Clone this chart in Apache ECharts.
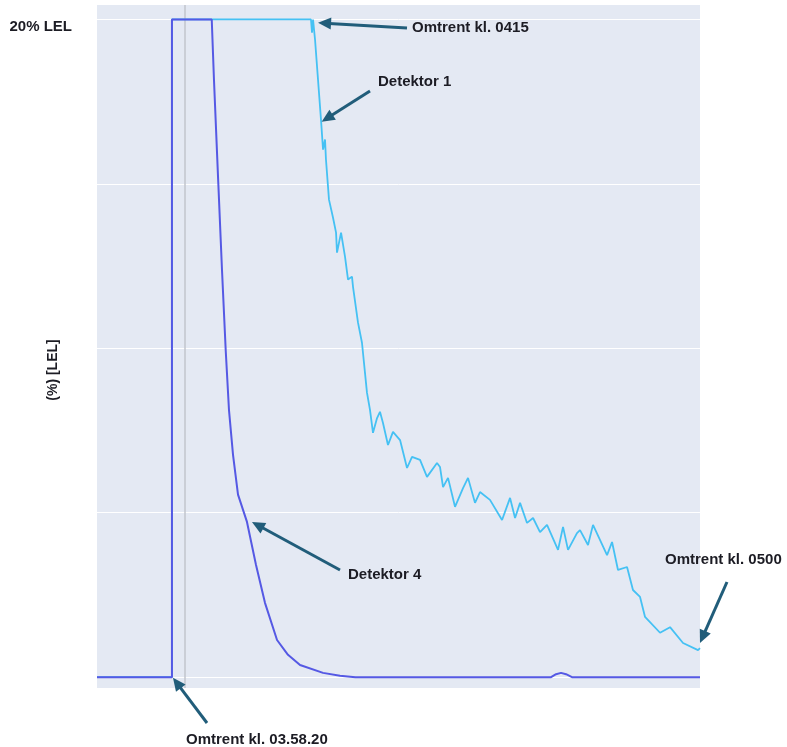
<!DOCTYPE html>
<html>
<head>
<meta charset="utf-8">
<script src="https://cdn.jsdelivr.net/npm/echarts@6/dist/echarts.min.js"></script>
<style>
  html, body { margin: 0; padding: 0; background: #ffffff; }
  #chart { width: 787px; height: 747px; }
</style>
</head>
<body>
<div id="chart"></div>
<script>
// Time is given in minutes after 03:50:00, gas level in % LEL.
const detector1Time = [0, 8.7, 8.7, 24.84, 24.96, 25.08, 25.31, 26.00, 26.24, 26.47, 26.58, 26.93, 27.40, 27.75, 27.86, 28.33,
  28.79, 29.14, 29.60, 29.72, 30.30, 30.76, 31.34, 31.69, 32.04, 32.51, 32.85, 33.20, 33.78, 34.36, 35.18, 35.99, 36.57,
  37.50, 38.31, 39.47, 39.82, 40.17, 40.75, 41.56, 42.49, 43.07, 43.88, 44.46, 45.62, 47.02, 47.95, 48.53, 49.11, 49.92,
  50.62, 51.43, 52.24, 53.52, 54.10, 54.68, 55.72, 56.07, 57.00, 57.58, 59.21, 59.79, 60.48, 61.53, 62.22, 63.04, 63.62,
  65.36, 66.52, 68.03, 69.77, 70.00];
const detector1Lel = [0, 0, 20, 20, 19.6, 20, 19.39, 16.96, 16.04, 16.35, 15.74, 14.52, 13.97, 13.52, 12.91, 13.52,
  12.79, 12.09, 12.18, 11.87, 10.78, 10.17, 8.65, 8.13, 7.43, 7.88, 8.07, 7.73, 7.06, 7.46, 7.21, 6.36, 6.70,
  6.61, 6.09, 6.51, 6.39, 5.78, 6.06, 5.18, 5.75, 6.06, 5.30, 5.63, 5.39, 4.78, 5.45, 4.84, 5.30, 4.69,
  4.84, 4.41, 4.63, 3.87, 4.57, 3.87, 4.38, 4.47, 4.02, 4.63, 3.71, 4.11, 3.26, 3.35, 2.65, 2.44, 1.83,
  1.35, 1.52, 1.04, 0.82, 0.88];

const detector4Time = [0, 8.7, 8.7, 13.32, 13.58, 14.08, 14.51, 14.94, 15.32, 15.79, 16.37, 17.41, 18.46, 19.50, 20.90,
  22.17, 23.57, 26.24, 28.21, 30.00, 52.71, 53.29, 53.87, 54.45, 55.14, 70.00];
const detector4Lel = [0, 0, 20, 20, 18.16, 15.03, 12.38, 9.95, 8.13, 6.76, 5.55, 4.72, 3.41, 2.26, 1.13,
  0.68, 0.37, 0.13, 0.04, 0, 0, 0.09, 0.13, 0.09, 0, 0];

const gridLevels = [0, 5, 10, 15, 20];
const markerTime = 10.2;
const yTickLabels = { 20: '20% LEL' };
const yAxisTitle = '(%) [LEL]';

// Callouts: arrow tip in chart values, tail and text anchor in pixels.
const callouts = [
  { text: 'Omtrent kl. 0415', tip: [25.66, 19.9], tail: [407, 28], label: [412, 28] },
  { text: 'Detektor 1', tip: [26.08, 16.89], tail: [370, 91], label: [378, 82] },
  { text: 'Detektor 4', tip: [17.99, 4.72], tail: [340, 570], label: [348, 575] },
  { text: 'Omtrent kl. 0500', tip: [70, 1.04], tail: [727, 582], label: [665, 560] },
  { text: 'Omtrent kl. 03.58.20', tip: [8.82, -0.02], tail: [207, 723], label: [186, 740] }
];

const FONT = "'Liberation Sans', Arial, sans-serif";
const TEXT_COLOR = '#1c1c24';
const ARROW_COLOR = '#215d7a';

const zip = (xs, ys) => xs.map((x, i) => [x, ys[i]]);

const chart = echarts.init(document.getElementById('chart'), null, { renderer: 'canvas' });

chart.setOption({
  animation: false,
  grid: { left: 97, right: 87, top: 5, bottom: 59, show: true, backgroundColor: '#e4e9f3', borderWidth: 0 },
  xAxis: { type: 'value', min: 0, max: 70, show: false },
  yAxis: {
    type: 'value', min: -0.33, max: 20.44,
    axisLine: { show: false }, axisTick: { show: false }, splitLine: { show: false },
    axisLabel: {
      customValues: [20],
      formatter: v => yTickLabels[v] || '',
      margin: 25, fontSize: 15, fontWeight: 'bold', color: TEXT_COLOR, fontFamily: FONT,
      verticalAlign: 'top'
    }
  },
  series: [
    {
      // background reference lines: level gridlines and the 04:00 marker
      type: 'line', data: [], silent: true, z: 1,
      markLine: {
        z: 1, silent: true, symbol: 'none', animation: false, label: { show: false },
        data: gridLevels.map(v => ({ yAxis: v, lineStyle: { color: '#ffffff', width: 1, type: 'solid' } }))
          .concat([{ xAxis: markerTime, lineStyle: { color: '#c2c5cc', width: 1.5, type: 'solid' } }])
      }
    },
    {
      name: 'Detektor 1', type: 'line', data: zip(detector1Time, detector1Lel),
      showSymbol: false, clip: false, z: 6,
      lineStyle: { color: '#45c1f3', width: 1.8 }
    },
    {
      name: 'Detektor 4', type: 'line', data: zip(detector4Time, detector4Lel),
      showSymbol: false, clip: false, z: 7,
      lineStyle: { color: '#5559e4', width: 2 }
    }
  ]
});

function arrowElements(tip, tail) {
  const dx = tip[0] - tail[0], dy = tip[1] - tail[1];
  const len = Math.hypot(dx, dy);
  const ux = dx / len, uy = dy / len;
  const headLen = 13, headHalf = 6;
  const bx = tip[0] - ux * headLen, by = tip[1] - uy * headLen;
  return [
    { type: 'line', shape: { x1: tail[0], y1: tail[1], x2: bx + ux * 2, y2: by + uy * 2 },
      style: { stroke: ARROW_COLOR, lineWidth: 3 }, z: 10 },
    { type: 'polygon', shape: { points: [[tip[0], tip[1]], [bx - uy * headHalf, by + ux * headHalf], [bx + uy * headHalf, by - ux * headHalf]] },
      style: { fill: ARROW_COLOR }, z: 10 }
  ];
}

const elements = [];
callouts.forEach(c => {
  const tipPx = chart.convertToPixel({ gridIndex: 0 }, c.tip);
  elements.push(...arrowElements(tipPx, c.tail));
  elements.push({
    type: 'text', x: c.label[0], y: c.label[1], z: 10,
    style: { text: c.text, fill: TEXT_COLOR, font: 'bold 15px ' + FONT, align: 'left', verticalAlign: 'middle' }
  });
});
elements.push({
  type: 'text', x: 53, y: 370, rotation: Math.PI / 2, z: 10,
  style: { text: yAxisTitle, fill: TEXT_COLOR, font: 'bold 14px ' + FONT, align: 'center', verticalAlign: 'middle' }
});

chart.setOption({ graphic: { elements: elements } });
</script>
</body>
</html>
